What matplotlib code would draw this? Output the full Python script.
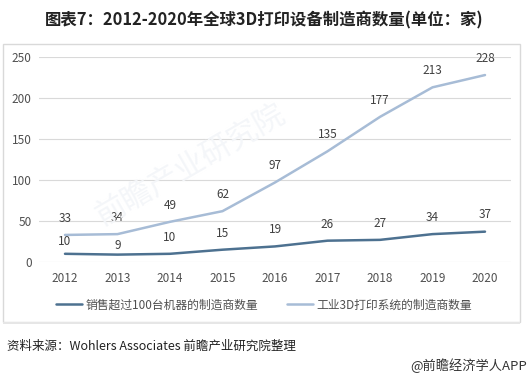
import matplotlib
matplotlib.use("Agg")
import matplotlib.pyplot as plt
from matplotlib.patches import Rectangle

plt.rcParams['font.family'] = ['Noto Sans CJK SC', 'DejaVu Sans']

years = ['2012', '2013', '2014', '2015', '2016', '2017', '2018', '2019', '2020']
sales_over_100 = [10, 9, 10, 15, 19, 26, 27, 34, 37]
industrial_3d = [33, 34, 49, 62, 97, 135, 177, 213, 228]
series_names = ['销售超过100台机器的制造商数量', '工业3D打印系统的制造商数量']
yticks = [0, 50, 100, 150, 200, 250]

# label offsets (points) - style only
dark_offsets = [9, 6.5, 12, 12, 12, 12, 12, 12, 12]
light_offsets = [12] * 9

W, H = 528, 378
fig = plt.figure(figsize=(W / 100, H / 100), dpi=100)
fig.patch.set_facecolor('white')

# chart frame
fig.patches.append(Rectangle((3 / W, 1 - 322 / H), 517 / W, (322 - 44) / H,
                             transform=fig.transFigure, facecolor='none',
                             edgecolor='#d9d9d9', linewidth=1.0))
fig.patches.append(Rectangle((3 / W, 1 - 324 / H), 517 / W, 2 / H,
                             transform=fig.transFigure, facecolor='#e6e6e6',
                             edgecolor='none'))

# faint watermark
fig.text(190 / W, 1 - 165 / H, '前瞻产业研究院', rotation=30, ha='center', va='center',
         fontsize=22, color='#f4f6f9', zorder=0)

ax = fig.add_axes([38.75 / W, 1 - 262 / H, 472.5 / W, (262 - 57) / H])
ax.patch.set_alpha(0)
x = list(range(len(years)))
c_dark = '#4d7190'
c_light = '#a7bcd6'
ax.plot(x, sales_over_100, color=c_dark, lw=1.8, label=series_names[0], solid_capstyle='round')
ax.plot(x, industrial_3d, color=c_light, lw=1.8, label=series_names[1], solid_capstyle='round')

for xi, v, off in zip(x, sales_over_100, dark_offsets):
    ax.annotate(str(v), (xi, v), xytext=(0, off), textcoords='offset points',
                ha='center', va='center', fontsize=8.5, color='#404040')
for xi, v, off in zip(x, industrial_3d, light_offsets):
    ax.annotate(str(v), (xi, v), xytext=(0, off), textcoords='offset points',
                ha='center', va='center', fontsize=8.5, color='#404040')

ax.set_xlim(-0.5, len(years) - 0.5)
ax.set_ylim(0, 250)
ax.set_yticks(yticks)
ax.set_xticks(x)
ax.set_xticklabels(years)
ax.grid(axis='y', color='#d9d9d9', lw=0.8)
ax.set_axisbelow(True)
for s in ax.spines.values():
    s.set_visible(False)
ax.tick_params(length=0, labelsize=8.5, colors='#505050', pad=7)
ax.tick_params(axis='y', pad=5)

leg = fig.legend(loc='center', bbox_to_anchor=(0.5, 1 - 305 / H), ncol=2,
                 frameon=False, fontsize=8.5, handlelength=2.2, columnspacing=2.5,
                 handletextpad=0.3)
for t in leg.get_texts():
    t.set_color('#505050')

fig.text(0.5, 1 - 20 / H, '图表7：2012-2020年全球3D打印设备制造商数量(单位：家)',
         ha='center', va='center', fontsize=11.8, fontweight='bold', color='#222222')
fig.text(7 / W, 1 - 346 / H, '资料来源：Wohlers Associates 前瞻产业研究院整理',
         ha='left', va='center', fontsize=9, color='#222222')
fig.text(527 / W, 1 - 366 / H, '@前瞻经济学人APP',
         ha='right', va='center', fontsize=9.5, color='#333333')

fig.savefig('out.png', dpi=100, facecolor='white')
